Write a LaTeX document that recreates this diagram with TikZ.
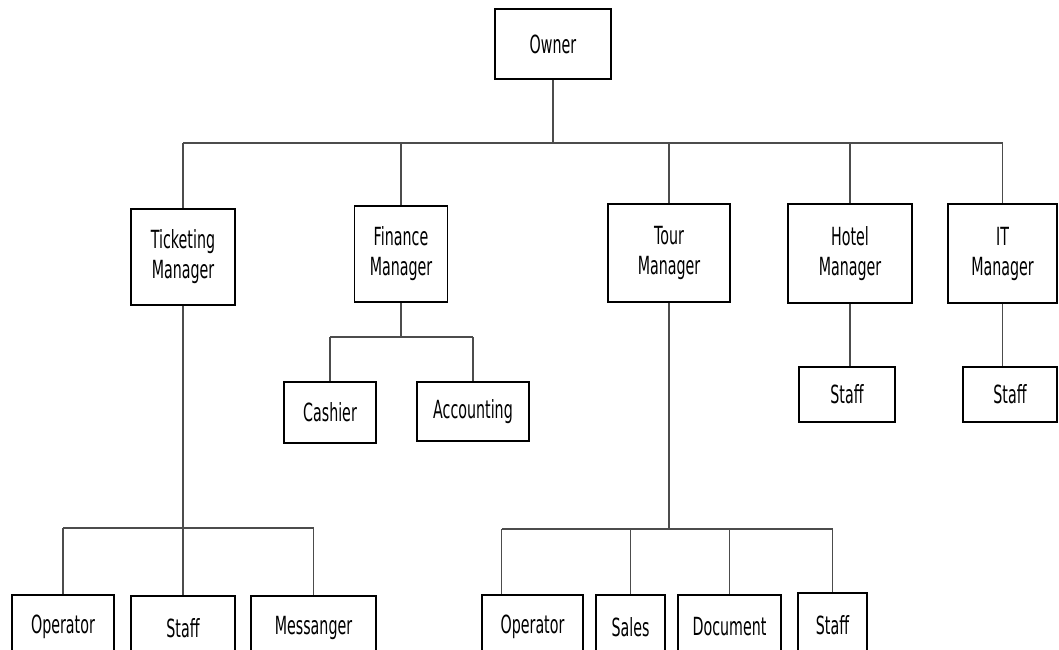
\documentclass[tikz,border=0pt]{standalone}
\usepackage{fontspec}
\setmainfont{DejaVu Sans}[FakeStretch=0.57]
\usetikzlibrary{calc}

\begin{document}
\begin{tikzpicture}[x=1pt,y=-1pt]
\tikzstyle{box}=[draw=black, line width=1.5pt, inner sep=0pt, align=center, font=\fontsize{25}{30}\selectfont]
\tikzstyle{wire}=[draw=black!70, line width=1.2pt]
\useasboundingbox (0,0) rectangle (1059,649);
\node[box, minimum width=116, minimum height=70] (owner) at (553,44) {Owner};
\node[box, minimum width=104, minimum height=96] (tkt) at (183,257) {Ticketing\\Manager};
\node[box, minimum width=93, minimum height=96] (fin) at (401,254) {Finance\\Manager};
\node[box, minimum width=122, minimum height=98] (tour) at (669,253) {Tour\\Manager};
\node[box, minimum width=124, minimum height=99] (hotel) at (850,253.5) {Hotel\\Manager};
\node[box, minimum width=109, minimum height=99] (it) at (1002.5,253.5) {IT\\Manager};
\node[box, minimum width=92, minimum height=61] (cash) at (330,412.5) {Cashier};
\node[box, minimum width=112, minimum height=59] (acc) at (473,411.5) {Accounting};
\node[box, minimum width=96, minimum height=55] (hstaff) at (847,394.5) {Staff};
\node[box, minimum width=94, minimum height=55] (itstaff) at (1010,394.5) {Staff};
\node[box, minimum width=102, minimum height=64] (op1) at (63,627) {Operator};
\node[box, minimum width=104, minimum height=64] (st1) at (183,628) {Staff};
\node[box, minimum width=125, minimum height=64] (msg) at (313.5,628) {Messanger};
\node[box, minimum width=101, minimum height=64] (op2) at (532.5,627) {Operator};
\node[box, minimum width=69, minimum height=64] (sales) at (630.5,627) {Sales};
\node[box, minimum width=103, minimum height=64] (doc) at (729.5,627) {Document};
\node[box, minimum width=69, minimum height=64] (st3) at (832.5,625) {Staff};
\coordinate (bar) at (0,143);
\coordinate (fbar) at (0,337);
\coordinate (tbar) at (0,528);
\coordinate (rbar) at (0,529);
\coordinate (op2top) at ($(op2.north west)!0.2!(op2.north east)$);
\draw[wire] (owner.south) -- (owner.south |- bar);
\draw[wire] (tkt.north |- bar) -- (it.north |- bar);
\draw[wire] (tkt.north |- bar) -- (tkt.north);
\draw[wire] (fin.north |- bar) -- (fin.north);
\draw[wire] (tour.north |- bar) -- (tour.north);
\draw[wire] (hotel.north |- bar) -- (hotel.north);
\draw[wire] (it.north |- bar) -- (it.north);
\draw[wire] (fin.south) -- (fin.south |- fbar);
\draw[wire] (cash.north |- fbar) -- (acc.north |- fbar);
\draw[wire] (cash.north |- fbar) -- (cash.north);
\draw[wire] (acc.north |- fbar) -- (acc.north);
\draw[wire] (hotel.south) -- (hotel.south |- hstaff.north);
\draw[wire] (it.south) -- (it.south |- itstaff.north);
\draw[wire] (tkt.south) -- (st1.north);
\draw[wire] (op1.north |- tbar) -- (msg.north |- tbar);
\draw[wire] (op1.north |- tbar) -- (op1.north);
\draw[wire] (msg.north |- tbar) -- (msg.north);
\draw[wire] (tour.south) -- (tour.south |- rbar);
\draw[wire] (op2top |- rbar) -- (st3.north |- rbar);
\draw[wire] (op2top |- rbar) -- (op2top);
\draw[wire] (sales.north |- rbar) -- (sales.north);
\draw[wire] (doc.north |- rbar) -- (doc.north);
\draw[wire] (st3.north |- rbar) -- (st3.north);
\end{tikzpicture}
\end{document}
